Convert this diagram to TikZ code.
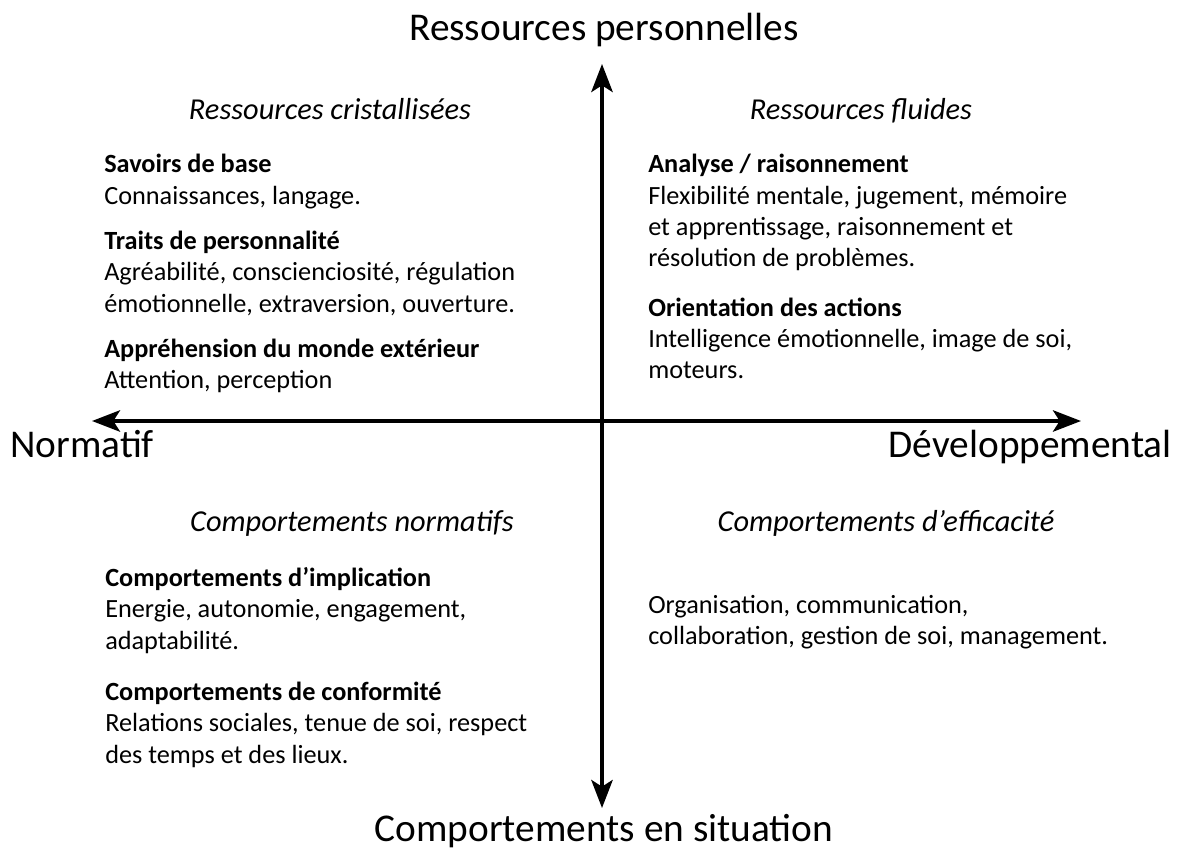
\documentclass[tikz,border=0pt]{standalone}
\usepackage{fontspec}
\setmainfont{Carlito}
\usetikzlibrary{arrows.meta}
\tikzset{>={Stealth[length=21pt,width=16pt,inset=5pt]}}
\tikzset{
  axetitre/.style={font=\fontsize{29.5}{34}\selectfont},
  quadtitre/.style={font=\fontsize{22.8}{27}\selectfont\itshape, anchor=base},
  bloc/.style={font=\fontsize{19.7}{23.5}\selectfont, align=left, anchor=north west, inner sep=0pt},
}

\begin{document}
\begin{tikzpicture}[x=0.75pt,y=-0.75pt]
    \useasboundingbox (0,0) rectangle (1180,852);
    % axes
    \coordinate (haut) at (602,64);
    \coordinate (bas) at (602,808);
    \coordinate (gauche) at (92,421);
    \coordinate (droite) at (1081,421);
    \draw[<->, line width=3pt] (gauche) -- (droite);
    \draw[<->, line width=3pt] (bas) -- (haut);
    % titres des axes
    \node[axetitre] (ressources) at (604,30) {Ressources personnelles};
    \node[axetitre] (comportements) at (604,831) {Comportements en situation};
    \node[axetitre, anchor=base west, inner sep=0pt] (normatif) at (10,457) {Normatif};
    \node[axetitre, anchor=base east, inner sep=0pt] (developpemental) at (1172,457) {Développemental};
    % titres des quadrants
    \node[quadtitre] (cristal) at (330,120) {Ressources cristallisées};
    \node[quadtitre] (fluides) at (861,120) {Ressources fluides};
    \node[quadtitre] (normatifs) at (352,531) {Comportements normatifs};
    \node[quadtitre] (efficacite) at (886,531) {Comportements d’efficacité};
    % contenus
    \node[bloc] (savoirs) at (104,154) {\textbf{Savoirs de base}\\
        Connaissances, langage.\\[10.5pt]
        \textbf{Traits de personnalité}\\
        Agréabilité, conscienciosité, régulation\\
        émotionnelle, extraversion, ouverture.\\[10.5pt]
        \textbf{Appréhension du monde extérieur}\\
        Attention, perception};
    \node[bloc] (analyse) at (648,154) {\textbf{Analyse / raisonnement}\\
        Flexibilité mentale, jugement, mémoire\\
        et apprentissage, raisonnement et\\
        résolution de problèmes.\\[13.5pt]
        \textbf{Orientation des actions}\\
        Intelligence émotionnelle, image de soi,\\
        moteurs.};
    \node[bloc] (implication) at (105,567) {\textbf{Comportements d’implication}\\
        Energie, autonomie, engagement,\\
        adaptabilité.\\[15pt]
        \textbf{Comportements de conformité}\\
        Relations sociales, tenue de soi, respect\\
        des temps et des lieux.};
    \node[bloc] (organisation) at (648,595) {Organisation, communication,\\
        collaboration, gestion de soi, management.};
\end{tikzpicture}
\end{document}
